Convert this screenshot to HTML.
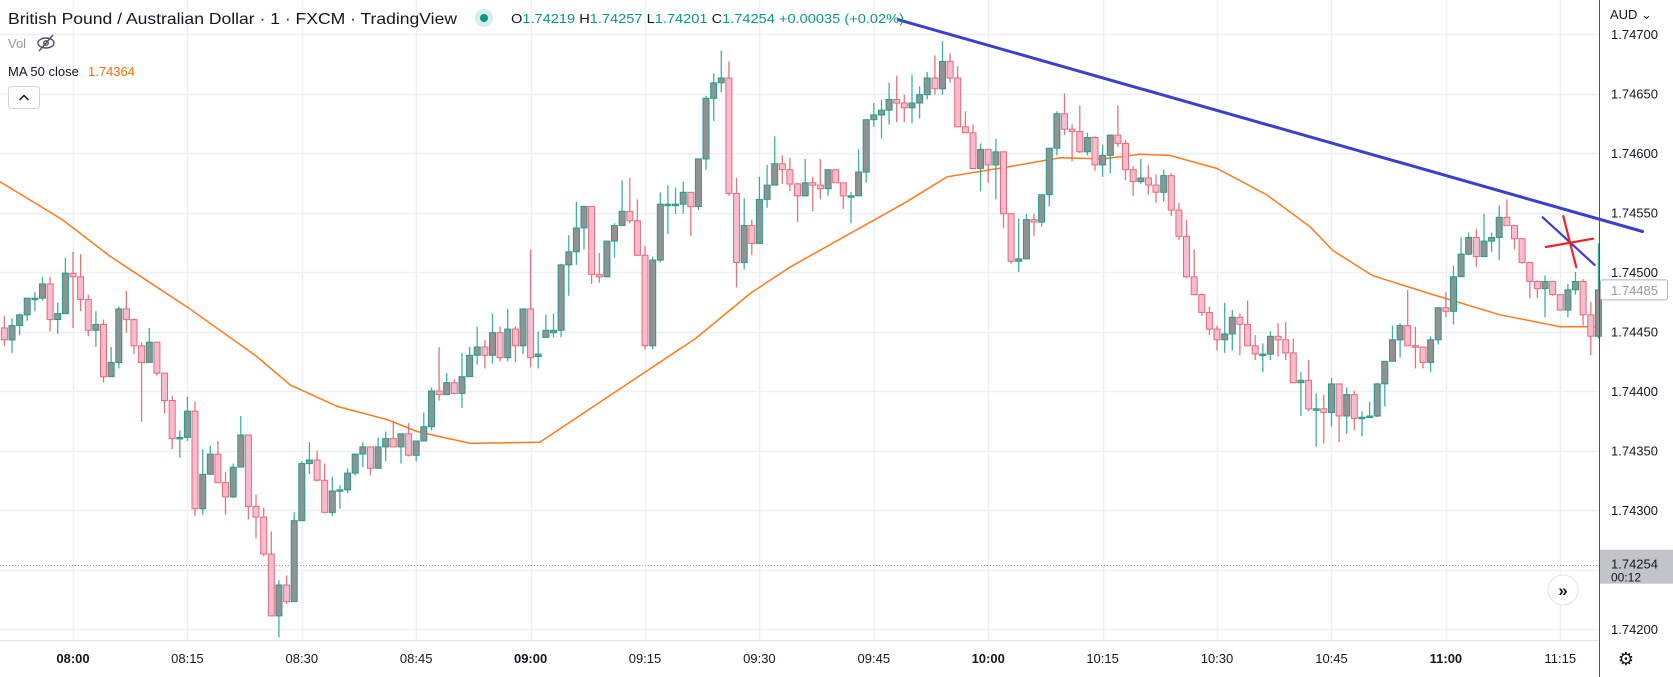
<!DOCTYPE html>
<html><head><meta charset="utf-8"><style>
html,body{margin:0;padding:0;background:#fff;}
svg{display:block;font-family:"Liberation Sans",sans-serif;}
</style></head><body>
<svg id="chart" width="1673" height="677" viewBox="0 0 1673 677" xmlns="http://www.w3.org/2000/svg">
<rect x="0" y="0" width="1673" height="677" fill="#ffffff"/>
<g id="grid"></g>
<g id="ma"></g>
<g id="candles"></g>
<g id="draw"></g>
<g id="axes"></g>
<g>
 <text x="8" y="24" font-size="16" fill="#131722" textLength="449" lengthAdjust="spacingAndGlyphs">British Pound / Australian Dollar · 1 · FXCM · TradingView</text>
 <circle cx="484" cy="18" r="9" fill="#d7efec"/>
 <circle cx="484" cy="18" r="4" fill="#089981"/>
 <text x="511" y="23" font-size="13" textLength="393" lengthAdjust="spacingAndGlyphs"><tspan fill="#131722">O</tspan><tspan fill="#089981">1.74219 </tspan><tspan fill="#131722">H</tspan><tspan fill="#089981">1.74257 </tspan><tspan fill="#131722">L</tspan><tspan fill="#089981">1.74201 </tspan><tspan fill="#131722">C</tspan><tspan fill="#089981">1.74254 +0.00035 (+0.02%)</tspan></text>
 <text x="8" y="48" font-size="13" fill="#9598a1">Vol</text>
 <g stroke="#50535e" stroke-width="1.4" fill="none">
  <ellipse cx="46" cy="43" rx="8" ry="5"/><circle cx="46" cy="43" r="2.2"/><line x1="39" y1="51" x2="53" y2="35"/>
 </g>
 <text x="8" y="76" font-size="13" fill="#131722">MA 50 close</text>
 <text x="88" y="76" font-size="13" fill="#ff6d00">1.74364</text>
 <rect x="8.5" y="86.5" width="31" height="22" rx="3" fill="#fff" stroke="#d1d4dc"/>
 <path d="M19.5 100 L24 95.5 L28.5 100" stroke="#131722" stroke-width="1.5" fill="none"/>
</g>
</svg>
<script>
// ---- data (prices in 1/100000 units), first candle = 07:51, one per minute
const startMinute = -9; // minutes relative to 08:00
const opens = [174453,174443,174455,174464,174478,174478,174490,174460,174465,174499,174496,174477,174451,174456,174412,174424,174469,174460,174438,174424,174441,174415,174392,174360,174361,174383,174301,174330,174347,174323,174311,174336,174363,174303,174294,174263,174211,174237,174223,174291,174339,174342,174325,174298,174316,174317,174331,174347,174353,174335,174353,174360,174353,174364,174346,174358,174370,174400,174397,174407,174398,174412,174430,174437,174430,174449,174428,174452,174438,174469,174429,174445,174449,174451,174506,174517,174537,174555,174498,174496,174526,174539,174551,174543,174514,174438,174510,174557,174557,174557,174567,174555,174595,174646,174659,174663,174566,174508,174539,174524,174561,174573,174591,174586,174574,174564,174575,174573,174570,174586,174575,174564,174564,174584,174628,174632,174636,174645,174642,174638,174642,174649,174663,174654,174677,174663,174622,174617,174587,174603,174590,174601,174549,174509,174511,174544,174542,174565,174604,174633,174620,174618,174601,174613,174590,174598,174615,174608,174586,174576,174579,174573,174567,174581,174552,174530,174496,174481,174466,174452,174443,174448,174462,174456,174438,174431,174431,174446,174443,174432,174407,174409,174385,174385,174382,174406,174379,174397,174377,174378,174379,174406,174425,174443,174455,174438,174437,174424,174443,174470,174467,174496,174515,174529,174513,174526,174529,174546,174539,174528,174508,174492,174486,174492,174481,174468,174485,174492,174464,174446];
const highs = [174463,174461,174465,174478,174483,174496,174496,174474,174512,174517,174515,174481,174467,174460,174437,174471,174484,174461,174441,174453,174441,174415,174396,174367,174395,174391,174351,174354,174358,174332,174339,174379,174363,174313,174302,174282,174241,174245,174298,174341,174357,174350,174339,174328,174321,174335,174347,174357,174353,174361,174366,174375,174364,174373,174358,174382,174403,174437,174415,174410,174432,174437,174454,174443,174465,174454,174469,174454,174469,174519,174450,174464,174465,174507,174531,174559,174556,174555,174516,174526,174541,174577,174579,174561,174522,174513,174567,174573,174571,174576,174567,174595,174648,174667,174686,174677,174579,174562,174544,174580,174590,174614,174598,174596,174575,174595,174580,174595,174586,174586,174575,174567,174603,174628,174642,174645,174659,174665,174649,174666,174656,174668,174682,174694,174684,174673,174635,174624,174608,174603,174612,174601,174549,174545,174549,174549,174565,174604,174635,174650,174624,174640,174617,174614,174607,174615,174640,174611,174589,174595,174590,174582,174586,174583,174558,174544,174519,174482,174471,174455,174474,174468,174465,174476,174447,174440,174450,174457,174458,174444,174416,174426,174398,174397,174411,174406,174403,174400,174383,174391,174407,174425,174455,174457,174485,174454,174437,174446,174470,174483,174505,174529,174533,174536,174549,174533,174556,174561,174539,174528,174508,174493,174497,174492,174481,174490,174500,174494,174475,174524];
const lows = [174438,174432,174447,174459,174467,174476,174450,174448,174465,174453,174467,174446,174437,174407,174412,174419,174449,174431,174374,174424,174413,174381,174351,174344,174358,174295,174296,174330,174323,174296,174310,174336,174292,174276,174261,174211,174193,174221,174223,174291,174330,174324,174298,174295,174301,174314,174329,174336,174329,174335,174341,174353,174339,174345,174341,174358,174367,174392,174397,174397,174386,174412,174422,174419,174423,174425,174425,174424,174431,174420,174419,174445,174445,174445,174480,174506,174519,174490,174491,174496,174512,174539,174541,174514,174435,174435,174508,174532,174549,174549,174530,174552,174586,174627,174651,174564,174487,174502,174514,174524,174554,174573,174574,174568,174542,174564,174551,174561,174564,174575,174553,174541,174564,174575,174622,174612,174624,174626,174626,174625,174629,174645,174649,174649,174659,174622,174617,174587,174568,174575,174561,174537,174507,174500,174511,174530,174538,174555,174598,174615,174593,174600,174598,174585,174580,174583,174605,174577,174564,174574,174565,174558,174559,174547,174527,174495,174481,174463,174447,174434,174432,174434,174430,174438,174426,174416,174426,174429,174426,174407,174379,174383,174353,174356,174370,174357,174364,174367,174362,174378,174378,174387,174425,174428,174438,174419,174419,174416,174439,174462,174456,174496,174514,174504,174513,174517,174510,174539,174519,174507,174478,174478,174462,174480,174468,174462,174481,174455,174430,174444];
const closes = [174443,174455,174464,174478,174478,174490,174460,174465,174499,174496,174477,174451,174456,174412,174424,174469,174460,174438,174424,174441,174415,174392,174360,174361,174383,174301,174330,174347,174323,174311,174336,174363,174303,174294,174263,174211,174237,174223,174291,174339,174342,174325,174298,174316,174317,174331,174347,174353,174335,174353,174360,174353,174364,174346,174358,174370,174400,174397,174407,174398,174412,174430,174437,174430,174449,174428,174452,174438,174469,174428,174431,174451,174451,174506,174517,174537,174555,174498,174496,174526,174539,174551,174543,174514,174438,174510,174557,174557,174557,174567,174555,174595,174646,174659,174663,174566,174508,174539,174524,174561,174573,174591,174586,174574,174564,174575,174573,174570,174586,174575,174564,174564,174584,174628,174632,174636,174645,174642,174638,174642,174649,174663,174654,174677,174663,174622,174617,174587,174603,174590,174601,174549,174509,174511,174544,174542,174565,174604,174633,174620,174618,174601,174613,174590,174598,174615,174608,174586,174576,174579,174573,174567,174581,174552,174530,174496,174481,174466,174452,174443,174448,174462,174456,174438,174431,174431,174446,174443,174432,174407,174409,174385,174385,174382,174406,174379,174397,174377,174378,174379,174406,174425,174443,174455,174438,174437,174424,174443,174470,174467,174496,174515,174529,174513,174526,174529,174546,174539,174528,174508,174492,174486,174492,174481,174468,174485,174492,174464,174446,174485];
// MA 50 samples: minute offsets and values
const maMinutes = [-9.6,-1.4,4.9,15.1,24.1,28.5,34.7,41.2,45.1,52.1,61.2,81.6,88.8,94,101.5,109.3,114.6,123.2,129.4,135,139.9,143.8,150,156.5,162.2,165.2,170.4,178.3,187.1,195,200];
const maValues = [174576,174544,174513,174470,174429,174405,174387,174376,174366,174356,174357,174444,174482,174504,174531,174559,174580,174589,174596,174595,174599,174598,174587,174565,174538,174518,174497,174481,174464,174454,174454];
// axis ticks
const priceTicks = [174700,174650,174600,174550,174500,174450,174400,174350,174300,174250,174200];
const timeTickMinutes = [0,15,30,45,60,75,90,105,120,135,150,165,180,195];
const timeTickLabels = ["08:00","08:15","08:30","08:45","09:00","09:15","09:30","09:45","10:00","10:15","10:30","10:45","11:00","11:15"];
const lastPrice = 174254;
const markedPrice = 174485;
// drawings: [minute, price] pairs
const trendLine = [[108.2,174712],[205.8,174534]];
const smallBlueLine = [[192.7,174546],[199.5,174506]];
const redLine1 = [[193.1,174521],[199.3,174528]];
const redLine2 = [[195.4,174547],[197.1,174504]];

// ---- axes functions
const X0 = 73, PXMIN = 7.627;
function xOf(m){ return X0 + m*PXMIN; }
function yOf(p){ return 34 + (174700 - p)*1.19; }
const NS = "http://www.w3.org/2000/svg";
function mk(tag, attrs, parent){ const e=document.createElementNS(NS,tag); for(const k in attrs) e.setAttribute(k,attrs[k]); parent.appendChild(e); return e; }
const grid = document.getElementById('grid');
const candlesG = document.getElementById('candles');
const maG = document.getElementById('ma');
const drawG = document.getElementById('draw');
const axesG = document.getElementById('axes');
const PLOT_R = 1599, PLOT_B = 640;

// grid
priceTicks.forEach(function(p){
  const y = Math.round(yOf(p))+0.5;
  const l = mk('line',{x1:0,x2:PLOT_R,y1:y,y2:y,stroke:'#edf1f5','stroke-width':1.5},grid);
  
  
});
timeTickMinutes.forEach(function(m){
  const x = Math.round(xOf(m))+0.5;
  const l = mk('line',{x1:x,x2:x,y1:0,y2:PLOT_B,stroke:'#edf1f5','stroke-width':1.5},grid);
  
  
});
// last price dotted line
const dl = mk('line',{x1:0,x2:PLOT_R,y1:Math.round(yOf(lastPrice))+0.5,y2:Math.round(yOf(lastPrice))+0.5,stroke:'#9598a1','stroke-width':1,'stroke-dasharray':'1 2'},grid);



// MA line
let d='';
for(let i=0;i<maMinutes.length;i++){ d += (i?'L':'M') + xOf(maMinutes[i]).toFixed(1)+' '+yOf(maValues[i]).toFixed(1)+' '; }
const maPath = mk('path',{d:d,stroke:'#ff7a1a','stroke-width':1.5,fill:'none'},maG);



// candles
for(let i=0;i<opens.length;i++){
  const m = startMinute + i;
  const cx = xOf(m);
  const o=opens[i], h=highs[i], l=lows[i], c=closes[i];
  const up = c >= o;
  const g = mk('g',{},candlesG);
  
  
  const wick = up ? '#22a090' : '#e25c66';
  mk('line',{x1:cx.toFixed(1),x2:cx.toFixed(1),y1:yOf(h).toFixed(1),y2:yOf(l).toFixed(1),stroke:wick,'stroke-width':1.3,opacity:0.85},g);
  const top = yOf(Math.max(o,c)), bot = yOf(Math.min(o,c));
  const hgt = Math.max(1.5, bot-top);
  mk('rect',{x:(cx-3).toFixed(1),y:top.toFixed(1),width:6,height:hgt.toFixed(1),fill: up ? '#929292' : '#f8bbd0',stroke: up ? '#1f9e8e' : '#e86a74','stroke-width':1},g);
}

// drawings
function seg(pts, color, w, name){
  const l = mk('line',{x1:xOf(pts[0][0]).toFixed(1),y1:yOf(pts[0][1]).toFixed(1),x2:xOf(pts[1][0]).toFixed(1),y2:yOf(pts[1][1]).toFixed(1),stroke:color,'stroke-width':w,'stroke-linecap':'round'},drawG);
  
  
}
seg(trendLine,'#3b3fce',3,'trend-line');
seg(smallBlueLine,'#3b3fce',2.2,'short-blue-line');
seg(redLine1,'#f0222a',2.2,'red-cross-line-1');
seg(redLine2,'#f0222a',2.2,'red-cross-line-2');

// axes
const ra = mk('line',{x1:PLOT_R+0.5,x2:PLOT_R+0.5,y1:0,y2:677,stroke:'#50535e','stroke-width':1},axesG);


const ba = mk('line',{x1:0,x2:PLOT_R,y1:PLOT_B+0.5,y2:PLOT_B+0.5,stroke:'#e0e3eb','stroke-width':1},axesG);


priceTicks.forEach(function(p){
  const t = mk('text',{x:1611,y:(yOf(p)+5).toFixed(1),'font-size':13,fill:'#131722'},axesG);
  t.textContent = (p/100000).toFixed(5);
  
  
});
timeTickMinutes.forEach(function(m,i){
  const lbl = timeTickLabels[i];
  const bold = lbl.endsWith(':00');
  const t = mk('text',{x:xOf(m).toFixed(1),y:663,'font-size':13,fill:'#131722','text-anchor':'middle','font-weight':bold?'bold':'normal'},axesG);
  t.textContent = lbl;
  
  
});
// currency
const cur = mk('text',{x:1610,y:19,'font-size':13,fill:'#131722'},axesG);
cur.textContent = 'AUD ⌄';


// marked price label
const my = yOf(markedPrice);
const mb = mk('rect',{x:1600.5,y:(my-10).toFixed(1),width:67,height:20,rx:2,fill:'#fff',stroke:'#b2b5be'},axesG);


const mt = mk('text',{x:1611,y:(my+5).toFixed(1),'font-size':13,fill:'#9598a1'},axesG);
mt.textContent = (markedPrice/100000).toFixed(5);


// last price label
const ly = yOf(lastPrice);
const lb = mk('rect',{x:1600,y:(ly-15).toFixed(1),width:73,height:34,fill:'#c2c4c9'},axesG);


const lt = mk('text',{x:1611,y:(ly+4).toFixed(1),'font-size':13,fill:'#131722'},axesG);
lt.textContent = (lastPrice/100000).toFixed(5);


const lc = mk('text',{x:1611,y:(ly+17).toFixed(1),'font-size':12,fill:'#131722'},axesG);
lc.textContent = '00:12';


// scroll-to-realtime button
const sb = mk('circle',{cx:1563,cy:590,r:15,fill:'#fff',stroke:'#e0e3eb','stroke-width':1},axesG);


const st = mk('text',{x:1563,y:596,'font-size':17,'font-weight':'bold',fill:'#131722','text-anchor':'middle'},axesG);
st.textContent = '»';


// settings gear
const gear = mk('text',{x:1626,y:665,'font-size':18,fill:'#131722','text-anchor':'middle'},axesG);
gear.textContent = '⚙';


</script>
</body></html>
